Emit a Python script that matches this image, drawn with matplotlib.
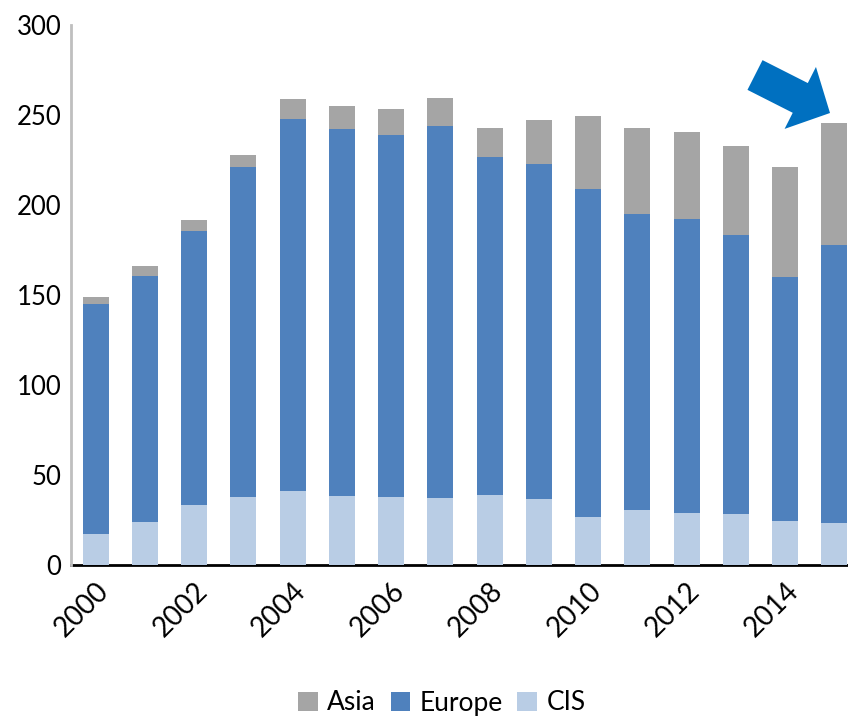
import matplotlib
matplotlib.use("Agg")
import matplotlib.pyplot as plt
import numpy as np

years = np.arange(2000, 2016)
cis = [17.2, 23.9, 33.3, 37.8, 41.1, 38.3, 37.8, 37.2, 38.9, 36.7, 26.7, 30.6, 28.9, 28.3, 24.4, 23.3]
europe = [127.8, 136.6, 152.3, 183.3, 206.7, 203.9, 201.1, 206.7, 187.8, 186.1, 182.2, 164.4, 163.3, 155.0, 135.6, 154.5]
asia = [3.9, 5.6, 6.1, 6.7, 11.1, 12.8, 14.4, 15.5, 16.1, 24.4, 40.5, 47.8, 48.4, 49.5, 61.1, 67.8]

plt.rcParams["font.family"] = ["Lato", "DejaVu Sans"]

W, H, DPI = 848, 718, 100
fig = plt.figure(figsize=(W / DPI, H / DPI), dpi=DPI)
# axes run past the right edge of the picture, as in the original
ax = fig.add_axes([71 / W, 153 / H, 788 / W, 540 / H])

x = np.arange(len(years))
cis_a = np.array(cis)
eur_a = np.array(europe)
bw = 0.53
ax.bar(x, cis_a, bw, color="#B9CDE5", label="CIS", zorder=2)
ax.bar(x, eur_a, bw, bottom=cis_a, color="#4F81BD", label="Europe", zorder=2)
ax.bar(x, asia, bw, bottom=cis_a + eur_a, color="#A5A5A5", label="Asia", zorder=2)

ax.set_xlim(-0.5, len(years) - 0.5)
ax.set_ylim(0, 300)
ax.set_yticks(np.arange(0, 301, 50))
ax.tick_params(axis="y", length=0, pad=7, labelsize=18.5)
ax.set_xticks(x[::2])
ax.set_xticklabels([str(y) for y in years[::2]], rotation=45, ha="right",
                   rotation_mode="anchor", fontsize=20)
ax.tick_params(axis="x", length=0, pad=9)

for s in ("top", "right"):
    ax.spines[s].set_visible(False)
ax.spines["left"].set_color("#BFBFBF")
ax.spines["left"].set_linewidth(2)
ax.spines["bottom"].set_color("black")
ax.spines["bottom"].set_linewidth(2)
ax.spines["bottom"].set_zorder(1)

handles, labels = ax.get_legend_handles_labels()
fig.legend(handles[::-1], labels[::-1], loc="center", bbox_to_anchor=(442 / W, 1 - 703 / H),
           ncol=3, frameon=False, fontsize=19, handlelength=0.75, handleheight=0.75,
           handletextpad=0.35, columnspacing=0.55, borderpad=0)

# blue block arrow pointing at the last bar
ax.annotate("", xy=(830, H - 113), xytext=(755, H - 75), xycoords="figure pixels",
            textcoords="figure pixels",
            arrowprops=dict(arrowstyle="simple,head_length=24,head_width=50,tail_width=24",
                            color="#0070C0", mutation_scale=1, shrinkA=0, shrinkB=0,
                            lw=0))

fig.savefig("out.png", dpi=DPI)
